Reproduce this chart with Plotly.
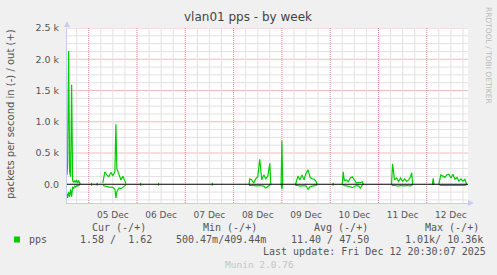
import pandas as pd
import plotly.graph_objects as go

# ---------------- data (hours since 2025-12-04 00:00) ----------------
base = pd.Timestamp("2025-12-04 00:00")

seg_a_h   = [13.2, 13.5, 14.0, 14.5, 15.0, 15.5, 16.0, 16.5, 17.0, 17.5, 18.0, 18.5, 19.0, 19.5, 19.8]
seg_a_out = [150, 300, 2130, 200, 120, 1590, 60, 30, 60, 30, 70, 20, 60, 30, 0]
seg_a_in  = [150, 220, 120, 200, 80, 200, 40, 70, 30, 40, 20, 30, 20, 10, 0]

dot_h = [25.1, 27.9, 49.5, 58.4, 85.1, 145.2]
dot_v = [15, 15, 15, 15, 15, 15]

seg_b_h   = [31, 32, 33, 34, 35, 36, 37, 37.5, 38, 39, 40, 41, 42, 42.5]
seg_b_out = [20, 200, 150, 120, 190, 140, 200, 960, 250, 150, 70, 130, 60, 10]
seg_b_in  = [20, 30, 40, 45, 45, 50, 80, 220, 120, 60, 70, 40, 20, 10]

seg_c_h   = [103.7, 104, 105, 106, 107, 108, 109, 110, 111, 112, 113, 114, 114.5]
seg_c_out = [0, 85, 70, 20, 85, 120, 400, 70, 150, 85, 130, 335, 0]
seg_c_in  = [0, 20, 20, 25, 30, 25, 20, 30, 30, 60, 40, 20, 0]

seg_d_h   = [119.6, 120, 120.4]
seg_d_out = [0, 695, 0]
seg_d_in  = [0, 80, 0]

seg_e_h   = [126.8, 127, 128, 129, 130, 131, 132, 133, 134, 135, 136, 137, 137.5]
seg_e_out = [0, 20, 130, 70, 150, 70, 175, 230, 115, 85, 80, 45, 0]
seg_e_in  = [0, 20, 20, 30, 25, 30, 25, 80, 40, 30, 25, 20, 0]

seg_f_h   = [150, 150.5, 151, 152, 153, 154, 155, 156, 157, 158, 159, 160, 160.5]
seg_f_out = [0, 200, 60, 70, 40, 100, 120, 70, 20, 30, 25, 40, 0]
seg_f_in  = [0, 10, 20, 25, 30, 40, 55, 30, 20, 25, 60, 10, 0]

seg_g_h   = [174.5, 175, 176, 177, 178, 179, 180, 181, 182, 183, 184, 184.5, 185]
seg_g_out = [0, 325, 70, 100, 45, 100, 45, 85, 45, 70, 120, 185, 0]
seg_g_in  = [0, 20, 20, 25, 30, 20, 25, 25, 20, 25, 25, 20, 0]

seg_h_h   = [194.8, 195.2, 195.6]
seg_h_out = [0, 95, 0]
seg_h_in  = [0, 0, 0]

seg_i_h   = [198, 199, 200, 201, 202, 203, 204, 205, 206, 207, 208, 209, 210, 211, 211.8]
seg_i_out = [0, 150, 130, 110, 150, 160, 100, 160, 80, 110, 50, 85, 50, 80, 0]
seg_i_in  = [0, 20, 20, 20, 20, 20, 20, 20, 20, 20, 20, 20, 20, 20, 0]

range_start_h = 13.2
range_end_h = 212.5

y_tickvals = [0, 500, 1000, 1500, 2000, 2500]
y_ticktext = ["0.0", "0.5 k", "1.0 k", "1.5 k", "2.0 k", "2.5 k"]

title = "vlan01 pps - by week"
ylabel = "packets per second in (-) / out (+)"
legend_name = "pps"
cur_vals = "1.58 /  1.62"
min_vals = "500.47m/409.44m"
avg_vals = "11.40 / 47.50"
max_vals = "1.01k/ 10.36k"
last_update = "Last update: Fri Dec 12 20:30:07 2025"

# ---------------- assemble ----------------
segments = [
    (seg_a_h, seg_a_out, seg_a_in),
    (seg_b_h, seg_b_out, seg_b_in),
    (seg_c_h, seg_c_out, seg_c_in),
    (seg_d_h, seg_d_out, seg_d_in),
    (seg_e_h, seg_e_out, seg_e_in),
    (seg_f_h, seg_f_out, seg_f_in),
    (seg_g_h, seg_g_out, seg_g_in),
    (seg_h_h, seg_h_out, seg_h_in),
    (seg_i_h, seg_i_out, seg_i_in),
]
for h, v in zip(dot_h, dot_v):
    segments.append(([h, h + 0.6], [v, v], [v, v]))

xs, outs, ins = [], [], []
for h, o, i in segments:
    xs += [base + pd.Timedelta(hours=t) for t in h] + [None]
    outs += list(o) + [None]
    ins += [-v for v in i] + [None]

GREEN = "#00CC00"
fig = go.Figure()
fig.add_trace(go.Scatter(x=xs, y=ins, mode="lines", line=dict(color=GREEN, width=1.2),
                         connectgaps=False, hoverinfo="skip", showlegend=False))
fig.add_trace(go.Scatter(x=xs, y=outs, mode="lines", line=dict(color=GREEN, width=1.2),
                         connectgaps=False, hoverinfo="skip", showlegend=False))

W, H = 497, 275
L, R, T, B = 67, 468, 28, 203


def px(xp):
    return (xp - L) / (R - L)


def py(yp):
    return (B - yp) / (B - T)


MAJOR = "#d98c8c"
MAJOR_SOLID = "#efbcbc"
MINOR_SOLID = "#e2e2e2"
AXIS = "#c8ccf5"
TXT = "#555555"
DASH = "1px,1px"

fig.update_layout(
    width=W, height=H,
    margin=dict(l=L, r=W - R, t=T, b=H - B),
    paper_bgcolor="#F0F0F0", plot_bgcolor="#FFFFFF",
    showlegend=False,
    font=dict(family="DejaVu Sans", color=TXT, size=9),
)
x0 = base + pd.Timedelta(hours=range_start_h)
x1 = base + pd.Timedelta(hours=range_end_h)
fig.update_xaxes(
    type="date", range=[x0, x1],
    dtick=86400000, tick0="2025-12-04", tickformat="%d %b", ticklabelmode="period",
    showgrid=False,
    ticks="outside", ticklen=3, tickcolor="rgba(0,0,0,0)",
    showline=True, linecolor=AXIS, linewidth=1,
    tickfont=dict(family="DejaVu Sans", size=9, color=TXT),
    zeroline=False,
)
fig.update_yaxes(
    range=[-300, 2500],
    tickmode="array", tickvals=y_tickvals, ticktext=y_ticktext,
    showgrid=False,
    ticks="outside", ticklen=5, tickcolor="rgba(0,0,0,0)",
    showline=True, linecolor=AXIS, linewidth=1,
    zeroline=False,
    tickfont=dict(family="DejaVu Sans", size=9.5, color=TXT),
)

shapes = []
# horizontal grid: every 125, major (red) every 500
for k in range(-2, 21):
    v = k * 125
    if v == 0:
        continue
    major = v % 500 == 0
    shapes.append(dict(type="line", xref="paper", yref="y", x0=0, x1=1, y0=v, y1=v, layer="below",
                       line=dict(color=MAJOR_SOLID if major else MINOR_SOLID, width=1)))
# vertical grid: every 6 h, major (red, dotted) at midnight
t = pd.Timestamp("2025-12-04 18:00")
while t < x1:
    if t.hour == 0:
        line = dict(color=MAJOR, width=1, dash=DASH)
    else:
        line = dict(color=MINOR_SOLID, width=1)
    shapes.append(dict(type="line", xref="x", yref="paper", x0=t, x1=t, y0=0, y1=1,
                       layer="below", line=line))
    t += pd.Timedelta(hours=6)
# zero line
shapes.append(dict(type="line", xref="paper", yref="y", x0=0, x1=1, y0=0, y1=0,
                   line=dict(color="#000000", width=1)))
# arrows on axes
shapes.append(dict(type="path", xref="paper", yref="paper",
                   path=f"M {px(64)} {py(27)} L {px(70)} {py(27)} L {px(67)} {py(21)} Z",
                   fillcolor=AXIS, line=dict(width=0)))
shapes.append(dict(type="path", xref="paper", yref="paper",
                   path=f"M {px(468)} {py(200)} L {px(468)} {py(206)} L {px(474)} {py(203)} Z",
                   fillcolor=AXIS, line=dict(width=0)))
# legend swatch
shapes.append(dict(type="rect", xref="paper", yref="paper",
                   x0=px(14), x1=px(20), y0=py(242.5), y1=py(236.5),
                   fillcolor=GREEN, line=dict(width=0)))
fig.update_layout(shapes=shapes)

MONO = "DejaVu Sans Mono"
ann = []


def text(s, xp, yp, size=10, family=MONO, color=TXT, xanchor="left", angle=0):
    ann.append(dict(text=s, x=px(xp), y=py(yp), xref="paper", yref="paper",
                    xanchor=xanchor, yanchor="middle", showarrow=False, textangle=angle,
                    font=dict(family=family, size=size, color=color)))


text(title, 248, 17.5, size=12, family="DejaVu Sans", color="#444444", xanchor="center")
text(ylabel, 10, 114, size=10, family="DejaVu Sans", color=TXT, xanchor="center", angle=-90)
text("RRDTOOL / TOBI OETIKER", 488, 55, size=7.5, family="DejaVu Sans", color="#bbbbbb",
     xanchor="center", angle=90)

text("Cur (-/+)", 89.5, 227)
text("Min (-/+)", 200.5, 227)
text("Avg (-/+)", 312, 227)
text("Max (-/+)", 423, 227)
text(legend_name, 26.5, 239.5)
text(cur_vals, 78, 239.5)
text(min_vals, 174, 239.5)
text(avg_vals, 288.5, 239.5)
text(max_vals, 402.5, 239.5)
text(last_update, 261, 251.5)
text("Munin 2.0.76", 223, 264.5, size=9.5, color="#c4c4c4")
fig.update_layout(annotations=ann)

fig.write_html("out.html")
